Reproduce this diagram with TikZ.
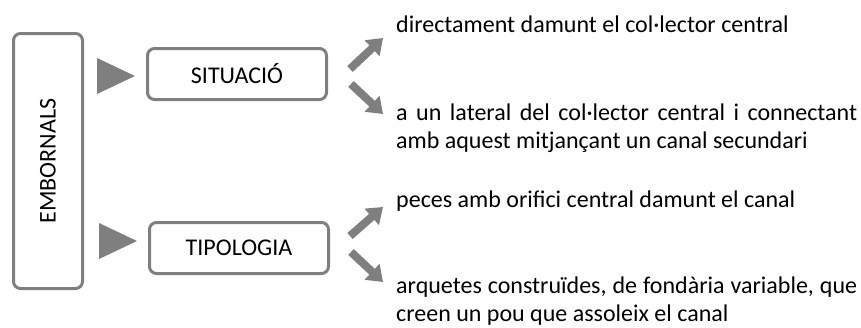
\documentclass[tikz,border=0pt]{standalone}
\usepackage{fontspec}
\setmainfont{Carlito}
\usepackage{xcolor}
\usetikzlibrary{arrows.meta}
\definecolor{boxgray}{HTML}{7F7F7F}

\begin{document}
\begin{tikzpicture}[
  x=1pt, y=-1pt,
  box/.style={draw=boxgray, line width=3pt, rounded corners=7pt, align=center, minimum width=179pt, minimum height=51pt, font=\fontsize{24}{27}\selectfont},
  item/.style={anchor=base west, inner sep=0pt, font=\fontsize{24}{28}\selectfont},
  arrow/.style={draw=boxgray, line width=8pt, -{Triangle[width=21pt, length=15pt]}},
  tri/.style={fill=boxgray}
]
\useasboundingbox (0,0) rectangle (861,327);

\node[box, minimum width=255pt, minimum height=69pt, rotate=90] (emb) at (48,161) {EMBORNALS};
\node[box] (sit) at (237,74) {SITUACIÓ};
\node[box] (tip) at (239,248) {TIPOLOGIA};

\node[item] (dir) at (396,32) {directament damunt el col·lector central};
\node[item] (lat) at (396,120) {\parbox[t]{461pt}{\makebox[461pt][s]{a un lateral del col·lector central i connectant}\\amb aquest mitjançant un canal secundari}};
\node[item] (pec) at (396,207) {peces amb orifici central damunt el canal};
\node[item] (arq) at (396,293) {\parbox[t]{461pt}{\makebox[461pt][s]{arquetes construïdes, de fondària variable, que}\\creen un pou que assoleix el canal}};

% triangles
\fill[tri] (97,58) -- (135,76) -- (97,94) -- cycle;
\fill[tri] (99,223) -- (137,241) -- (99,259) -- cycle;

\coordinate (s1) at (350,69);  \coordinate (e1) at (383,38);
\coordinate (s2) at (351,84);  \coordinate (e2) at (383,114);
\coordinate (s3) at (350,236); \coordinate (e3) at (383,207);
\coordinate (s4) at (351,252); \coordinate (e4) at (383,282);

\draw[arrow] (s1) -- (e1);
\draw[arrow] (s2) -- (e2);
\draw[arrow] (s3) -- (e3);
\draw[arrow] (s4) -- (e4);
\end{tikzpicture}
\end{document}
